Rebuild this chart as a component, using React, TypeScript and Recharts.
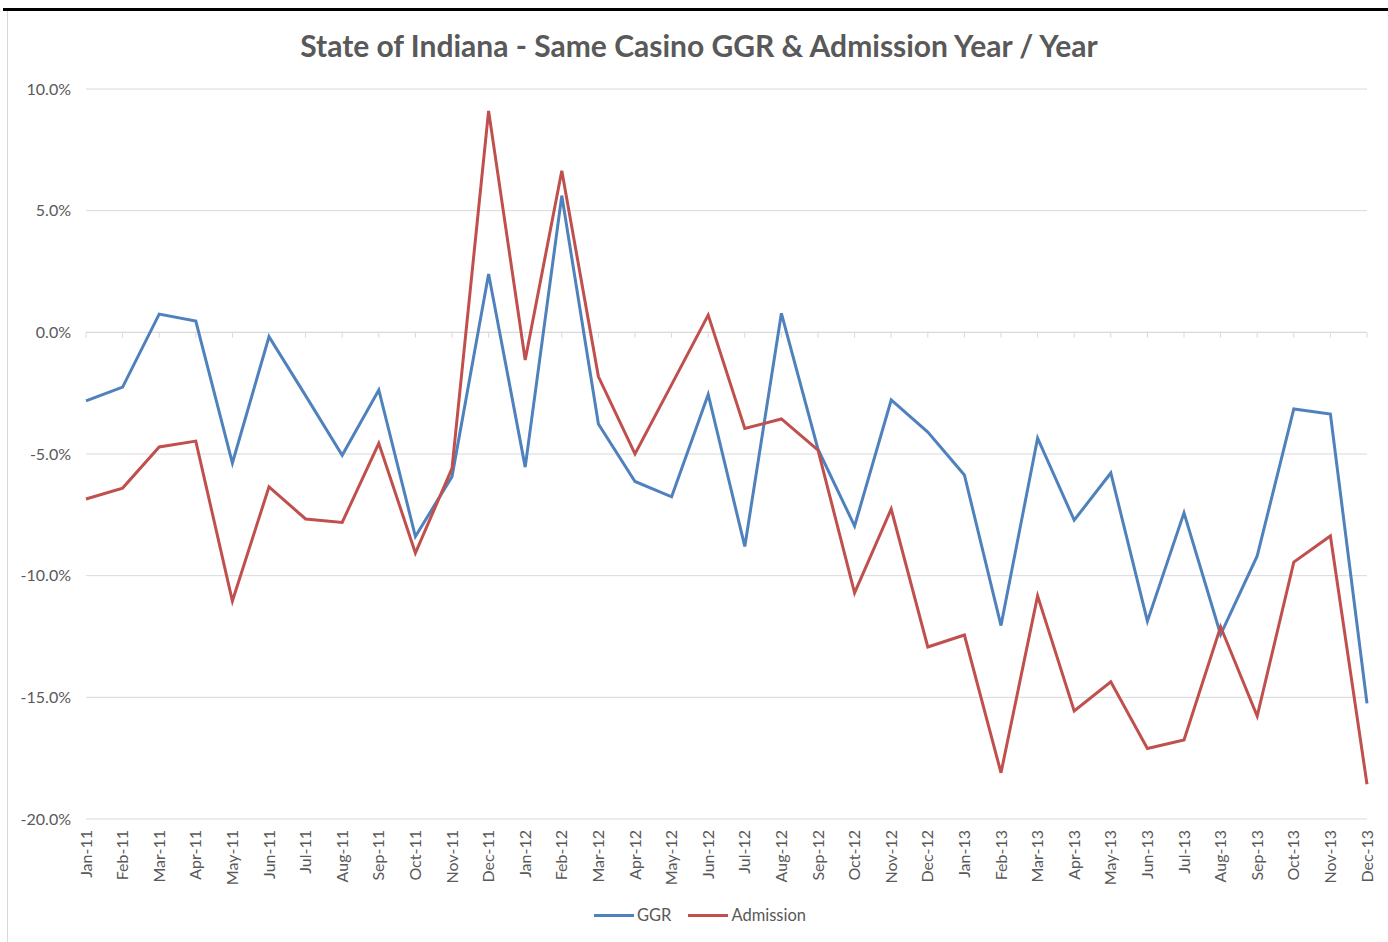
import React from 'react';
import { CartesianGrid, Line, LineChart, ReferenceLine, XAxis, YAxis } from 'recharts';

const months = [
  'Jan-11', 'Feb-11', 'Mar-11', 'Apr-11', 'May-11', 'Jun-11', 'Jul-11', 'Aug-11', 'Sep-11', 'Oct-11', 'Nov-11', 'Dec-11',
  'Jan-12', 'Feb-12', 'Mar-12', 'Apr-12', 'May-12', 'Jun-12', 'Jul-12', 'Aug-12', 'Sep-12', 'Oct-12', 'Nov-12', 'Dec-12',
  'Jan-13', 'Feb-13', 'Mar-13', 'Apr-13', 'May-13', 'Jun-13', 'Jul-13', 'Aug-13', 'Sep-13', 'Oct-13', 'Nov-13', 'Dec-13',
];

// year-over-year change, in percent
const ggr = [
  -2.82, -2.25, 0.75, 0.46, -5.37, -0.18, -2.6, -5.05, -2.37, -8.39, -5.93, 2.4,
  -5.54, 5.62, -3.77, -6.13, -6.76, -2.55, -8.8, 0.78, -4.8, -7.96, -2.78, -4.1,
  -5.86, -12.05, -4.35, -7.72, -5.78, -11.87, -7.42, -12.42, -9.19, -3.15, -3.36, -15.25,
];

const admission = [
  -6.85, -6.4, -4.71, -4.47, -11.04, -6.35, -7.67, -7.81, -4.56, -9.07, -5.59, 9.1,
  -1.14, 6.64, -1.82, -5.0, -2.15, 0.71, -3.95, -3.56, -4.84, -10.71, -7.26, -12.93,
  -12.44, -18.1, -10.83, -15.56, -14.36, -17.1, -16.75, -12.1, -15.77, -9.44, -8.37, -18.57,
];

const yTicks = [-20, -15, -10, -5, 0, 5, 10];

const series = [
  { key: 'ggr', name: 'GGR', color: '#4f81bd' },
  { key: 'admission', name: 'Admission', color: '#c0504d' },
];

const data = months.map((month, i) => ({ month, ggr: ggr[i], admission: admission[i] }));

const FONT = 'Lato, "Open Sans", sans-serif';
const TEXT = '#595959';
const GRID = '#d9d9d9';

const MonthTick = ({ x, y, payload }: { x?: number; y?: number; payload?: { value: string } }) => (
  <text
    transform={`translate(${x},${y}) rotate(-90)`}
    textAnchor="end"
    dy="0.35em"
    fill={TEXT}
    fontSize={16}
    fontFamily={FONT}
  >
    {payload?.value}
  </text>
);

const ChartLegend = () => (
  <div
    style={{
      position: 'absolute',
      top: 905,
      left: 0,
      width: 1400,
      display: 'flex',
      justifyContent: 'center',
      gap: 17,
      fontFamily: FONT,
      fontSize: 16.5,
      color: TEXT,
    }}
  >
    {series.map((s) => (
      <div key={s.key} style={{ display: 'flex', alignItems: 'center', gap: 3 }}>
        <span style={{ display: 'inline-block', width: 40, height: 3, background: s.color }} />
        <span>{s.name}</span>
      </div>
    ))}
  </div>
);

export default function App() {
  return (
    <div style={{ position: 'absolute', left: 0, top: 0, width: 1388, height: 942, background: '#fff', overflow: 'hidden' }}>
      <div style={{ position: 'absolute', left: 3, top: 8, width: 1385, height: 3, background: '#000' }} />
      <div style={{ position: 'absolute', left: 7, top: 11, width: 1, height: 931, background: '#d9d9d9' }} />
      <div
        style={{
          position: 'absolute',
          left: 0,
          top: 25,
          width: 1398,
          textAlign: 'center',
          fontFamily: FONT,
          fontWeight: 700,
          fontSize: 30,
          lineHeight: '40px',
          color: TEXT,
        }}
      >
        State of Indiana - Same Casino GGR &amp; Admission Year / Year
      </div>
      <LineChart width={1388} height={942} data={data} margin={{ top: 89, right: 21, bottom: 53, left: 0 }}>
        <CartesianGrid vertical={false} stroke={GRID} strokeWidth={1} />
        <XAxis
          dataKey="month"
          interval={0}
          height={70}
          axisLine={false}
          tickLine={false}
          tickSize={0}
          tickMargin={11}
          tick={<MonthTick />}
        />
        <YAxis
          width={86}
          domain={[-20, 10]}
          ticks={yTicks}
          axisLine={false}
          tickLine={false}
          tickSize={0}
          tickMargin={15}
          tick={{ fill: TEXT, fontSize: 16, fontFamily: FONT }}
          tickFormatter={(v: number) => `${v.toFixed(1)}%`}
        />
        <ReferenceLine y={0} stroke={GRID} strokeWidth={1} />
        {months.map((m) => (
          <ReferenceLine
            key={m}
            segment={[{ x: m, y: 0 }, { x: m, y: -0.22 }]}
            stroke={GRID}
            strokeWidth={1}
            ifOverflow="visible"
          />
        ))}
        {series.map((s) => (
          <Line
            key={s.key}
            type="linear"
            dataKey={s.key}
            name={s.name}
            stroke={s.color}
            strokeWidth={3}
            dot={false}
            isAnimationActive={false}
          />
        ))}
      </LineChart>
      <ChartLegend />
    </div>
  );
}
